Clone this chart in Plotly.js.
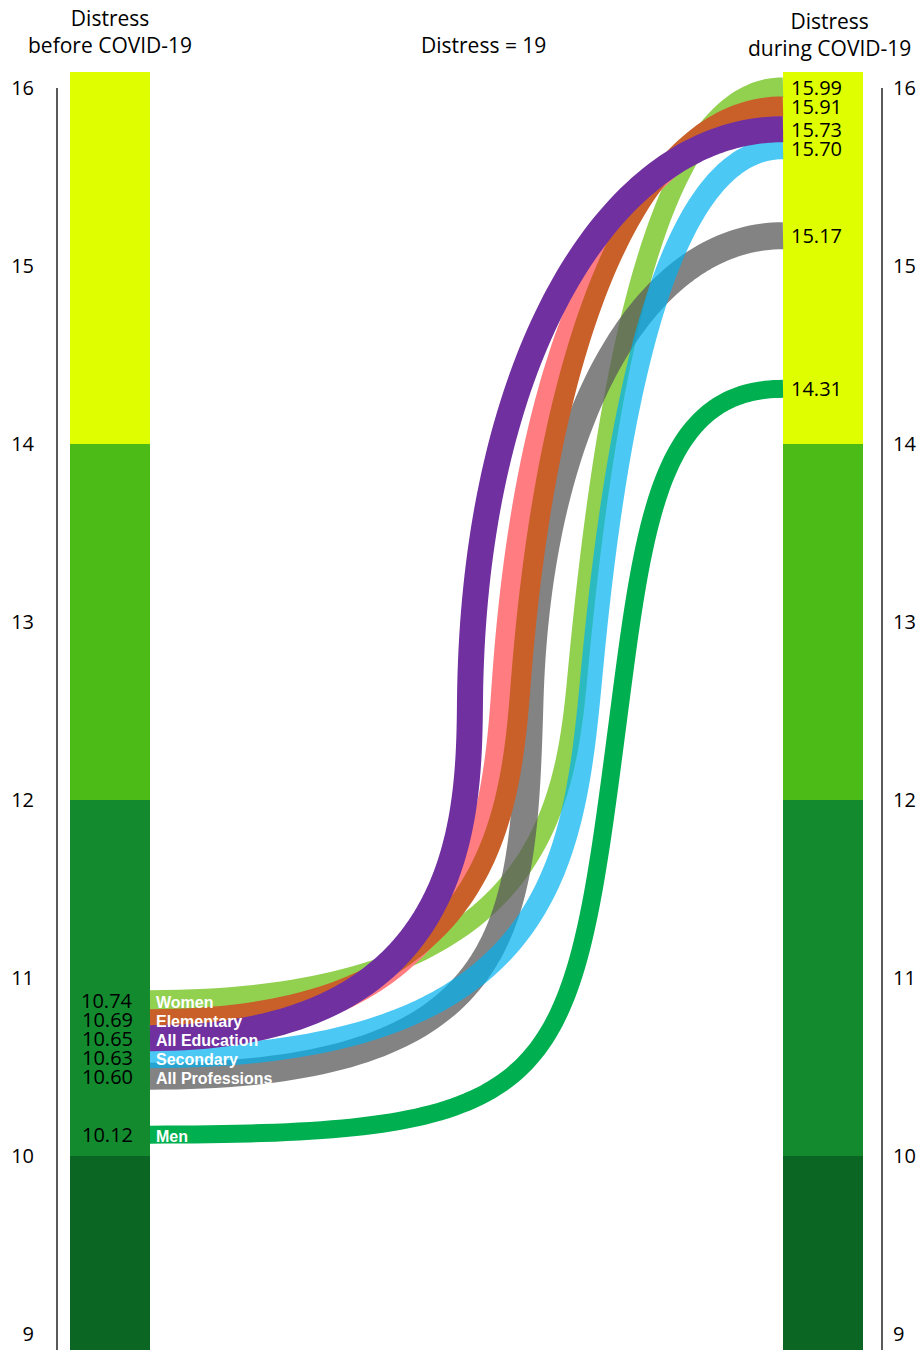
<!DOCTYPE html>
<html>
<head>
<meta charset="utf-8">
<script src="https://cdn.plot.ly/plotly-3.0.1.min.js"></script>
<style>html,body{margin:0;padding:0;background:#fff;}</style>
</head>
<body>
<div id="chart" style="width:920px;height:1353px;"></div>
<script>
// ---------------- DATA ----------------
const groups = ['Women', 'Elementary', 'All Education', 'Secondary', 'All Professions', 'Men'];
const distressBefore = [10.74, 10.69, 10.65, 10.63, 10.60, 10.12];
const distressDuring = [15.99, 15.91, 15.73, 15.70, 15.17, 14.31];
// unlabeled pink curve visible in the reference (runs beside "Elementary")
const extraBefore = 10.68;
const extraDuring = 15.80;
// background severity bands (distress levels)
const bandLow  = [8.5, 10, 12, 14];
const bandHigh = [10, 12, 14, 16.5];
const tickValues = [9, 10, 11, 12, 13, 14, 15, 16];
const titleBefore = 'Distress<br>before COVID-19';
const titleMiddle = 'Distress = 19';
const titleDuring = 'Distress<br>during COVID-19';

// ---------------- STYLE / LAYOUT ----------------
const W = 920, H = 1353;
const plotTop = 72, plotBottom = 1350;
const plotH = plotBottom - plotTop;
const yMin = 8.9101, yMax = 16.0899;
const leftBarX = 110, rightBarX = 823, barW = 80;
const curveX0 = leftBarX + barW / 2, curveX1 = rightBarX - barW / 2;
const leftAxisX = 57, rightAxisX = 882;
const bandColors = ['#0B6623', '#138A2E', '#4CBB17', '#DFFF00'];
const lineColors = ['#92D050', '#C9602A', '#7030A0', '#00B0F0', '#595959', '#00B050'];
const lineOpacity = [1, 1, 1, 0.7, 0.75, 1];
const lineWidths = [20, 20, 26, 22, 27, 18];
const extraColor = '#FF7C80', extraWidth = 22;
// bend shape of each S-curve: x of the steep part, level of the joint, slant,
// tightness of the lower bend, length of the upper handle
const bends = [
  {xm: 578, ym: 12.73,  s: 0.094, bL: 0.40, kR: 0.55},
  {xm: 521, ym: 12.674, s: 0.078, bL: 0.40, kR: 0.55},
  {xm: 470, ym: 12.562, s: 0.01,  bL: 0.35, kR: 0.55},
  {xm: 592, ym: 12.73,  s: 0.094, bL: 0.50, kR: 0.55},
  {xm: 530, ym: 12.562, s: 0.03,  bL: 0.60, kR: 0.55},
  {xm: 618, ym: 12.449, s: 0.13,  bL: 0.90, kR: 0.75}
];
const extraBend = {xm: 503, ym: 12.674, s: 0.07, bL: 0.40, kR: 0.58};
// drawing order (bottom -> top), indexes into groups; -1 = extra curve
const drawOrder = [5, 0, 4, -1, 1, 3, 2];
const FONT = 'Open Sans, Noto Sans, sans-serif';

const toPx = v => plotTop + (yMax - v) / (yMax - yMin) * plotH;
const toVal = p => yMax - (p - plotTop) / plotH * (yMax - yMin);

// label dodge (keeps clusters centred on their values)
function dodge(pxs, gap) {
  const idx = pxs.map((p, i) => i).sort((a, b) => pxs[a] - pxs[b]);
  let clusters = idx.map(i => ({members: [i], center: pxs[i]}));
  let changed = true;
  while (changed) {
    changed = false;
    for (let k = 0; k < clusters.length - 1; k++) {
      const a = clusters[k], b = clusters[k + 1];
      const aEnd = a.center + (a.members.length - 1) * gap / 2;
      const bStart = b.center - (b.members.length - 1) * gap / 2;
      if (bStart - aEnd < gap - 1e-9) {
        const members = a.members.concat(b.members);
        const center = members.reduce((s, i) => s + pxs[i], 0) / members.length;
        clusters.splice(k, 2, {members, center});
        changed = true;
        break;
      }
    }
  }
  const out = new Array(pxs.length);
  clusters.forEach(c => c.members.forEach((i, j) => {
    out[i] = c.center + (j - (c.members.length - 1) / 2) * gap;
  }));
  return out;
}

const leftPx = distressBefore.map(toPx);
const rightPx = distressDuring.map(toPx);
const leftPos = dodge(leftPx, 19);
const rightPos = dodge(rightPx, 19);

function bez(p0, p1, p2, p3, n) {
  const xs = [], ys = [];
  for (let i = 0; i <= n; i++) {
    const t = i / n, u = 1 - t;
    const a = u * u * u, b = 3 * u * u * t, c = 3 * u * t * t, d = t * t * t;
    xs.push(a * p0[0] + b * p1[0] + c * p2[0] + d * p3[0]);
    ys.push(a * p0[1] + b * p1[1] + c * p2[1] + d * p3[1]);
  }
  return [xs, ys];
}

function sCurve(Y0, Y1, bend) {
  const Ym = toPx(bend.ym), xm = bend.xm, s = bend.s;
  const cx = xm - s * (Y0 - Ym);                 // corner of the lower bend
  const p2 = [xm - bend.bL * s * (Y0 - Ym), Ym + bend.bL * (Y0 - Ym)];
  const vB = 0.6 * (Ym - Y1), hB = bend.kR * (curveX1 - xm);
  const A = bez([curveX0, Y0], [cx, Y0], p2, [xm, Ym], 80);
  const B = bez([xm, Ym], [xm + s * vB, Ym - vB], [curveX1 - hB, Y1], [curveX1, Y1], 80);
  const xs = A[0].concat(B[0].slice(1));
  const ys = A[1].concat(B[1].slice(1)).map(toVal);
  return {xs, ys};
}

const traces = [];
bandLow.forEach((lo, i) => {
  traces.push({
    type: 'bar', x: [leftBarX, rightBarX], y: [bandHigh[i] - lo, bandHigh[i] - lo],
    base: [lo, lo], width: [barW, barW],
    marker: {color: bandColors[i], line: {width: 0}},
    hoverinfo: 'skip', showlegend: false
  });
});

drawOrder.forEach(k => {
  let c, color, width, op, name;
  if (k === -1) {
    c = sCurve(toPx(extraBefore), toPx(extraDuring), extraBend);
    color = extraColor; width = extraWidth; op = 1; name = '';
  } else {
    c = sCurve(leftPos[k], rightPos[k], bends[k]);
    color = lineColors[k]; width = lineWidths[k]; op = lineOpacity[k]; name = groups[k];
  }
  traces.push({
    type: 'scatter', mode: 'lines', x: c.xs, y: c.ys, name: name,
    line: {color: color, width: width, shape: 'linear', simplify: false},
    opacity: op, hoverinfo: 'skip', showlegend: false
  });
});

// dummy trace for right axis
traces.push({type: 'scatter', mode: 'markers', x: [0], y: [null], yaxis: 'y2',
  hoverinfo: 'skip', showlegend: false, marker: {opacity: 0}});

const annotations = [];
groups.forEach((g, i) => {
  const shiftL = leftPx[i] - leftPos[i];
  annotations.push({
    x: leftBarX - 3, y: distressBefore[i], xref: 'x', yref: 'y', yshift: shiftL,
    text: distressBefore[i].toFixed(2), showarrow: false, xanchor: 'center', yanchor: 'middle',
    borderpad: 0, font: {family: FONT, size: 20, color: '#000'}
  });
  annotations.push({
    x: curveX0 + 5, y: distressBefore[i], xref: 'x', yref: 'y', yshift: shiftL - 2,
    text: '<b>' + g + '</b>', showarrow: false, xanchor: 'left', yanchor: 'middle',
    borderpad: 0, font: {family: 'Liberation Sans, Arial, sans-serif', size: 16, color: '#fff'}
  });
  const shiftR = rightPx[i] - rightPos[i];
  annotations.push({
    x: curveX1 + 7, y: distressDuring[i], xref: 'x', yref: 'y', yshift: shiftR,
    text: distressDuring[i].toFixed(2), showarrow: false, xanchor: 'left', yanchor: 'middle',
    borderpad: 0, font: {family: FONT, size: 20, color: '#000'}
  });
});
const paperY = px => (plotBottom - px) / plotH;
annotations.push({x: leftBarX / W, y: paperY(31), xref: 'paper', yref: 'paper',
  text: titleBefore, showarrow: false, xanchor: 'center', yanchor: 'middle',
  font: {family: FONT, size: 21, color: '#000'}});
annotations.push({x: 483 / W, y: paperY(45), xref: 'paper', yref: 'paper',
  text: titleMiddle, showarrow: false, xanchor: 'center', yanchor: 'middle',
  font: {family: FONT, size: 21, color: '#000'}});
annotations.push({x: 829 / W, y: paperY(34), xref: 'paper', yref: 'paper',
  text: titleDuring, showarrow: false, xanchor: 'center', yanchor: 'middle',
  font: {family: FONT, size: 21, color: '#000'}});

// axis lines from the lowest point of the scale up to the top tick
const topTick = Math.max(...tickValues);
const shapes = [leftAxisX, rightAxisX].map(xv => ({
  type: 'line', xref: 'x', yref: 'y', x0: xv, x1: xv, y0: yMin, y1: topTick,
  line: {color: '#000', width: 1.3}, layer: 'above'
}));

const axisCommon = {
  range: [yMin, yMax], tickvals: tickValues, ticktext: tickValues.map(String),
  showgrid: false, zeroline: false, showline: false,
  ticks: 'outside', tickcolor: 'rgba(0,0,0,0)', fixedrange: true,
  tickfont: {family: FONT, size: 20, color: '#000'}
};

const layout = {
  width: W, height: H,
  margin: {l: 0, r: 0, t: plotTop, b: H - plotBottom, pad: 0},
  paper_bgcolor: '#fff', plot_bgcolor: '#fff',
  barmode: 'overlay', bargap: 0, showlegend: false, hovermode: false,
  xaxis: {range: [0, W], visible: false, fixedrange: true},
  yaxis: Object.assign({}, axisCommon, {anchor: 'free', position: leftAxisX / W, side: 'left', ticklen: 19}),
  yaxis2: Object.assign({}, axisCommon, {anchor: 'free', position: rightAxisX / W, side: 'right',
    overlaying: 'y', ticklen: 6}),
  shapes: shapes,
  annotations: annotations
};

Plotly.newPlot('chart', traces, layout, {displayModeBar: false, staticPlot: true});
</script>
</body>
</html>
